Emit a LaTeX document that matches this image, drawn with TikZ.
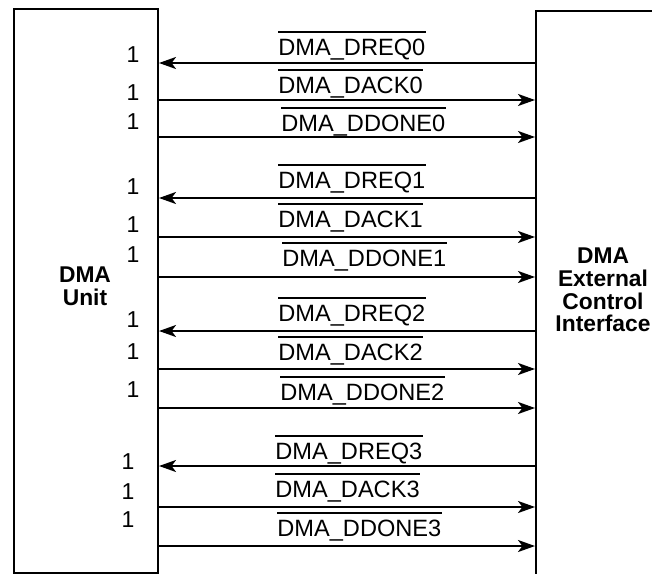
\documentclass[tikz,border=0pt]{standalone}
\usepackage{fontspec}
\setmainfont{Liberation Sans}
\usetikzlibrary{arrows.meta}

\tikzset{
  blk/.style={draw, line width=1pt, inner sep=0pt},
  sig/.style={line width=1pt},
  toE/.style={-{Stealth[length=8.5pt, width=6pt, inset=2.2pt]}},
  toU/.style={{Stealth[length=8.5pt, width=6pt, inset=2.2pt]}-},
  siglbl/.style={anchor=base west, inner sep=0pt, text height=8.5pt, font=\fontsize{11.8}{11.8}\selectfont},
  pinnum/.style={inner sep=0pt, font=\fontsize{11.5}{11.5}\selectfont},
  blklbl/.style={align=center, inner sep=0pt, font=\fontsize{11.4}{11.4}\selectfont\bfseries}
}

\begin{document}
\begin{tikzpicture}[x=0.5pt, y=-0.5pt]
  \clip (0,0) rectangle (652,573);
  % the two blocks
  \node[blk, anchor=north west, minimum width=72pt, minimum height=282pt] (unit) at (13,8) {};
  \node[blk, anchor=north west, minimum width=100pt, minimum height=320pt] (eci) at (535,10) {};
  \node[blklbl] (unitlbl) at (85,286) {DMA\\Unit};
  \node[blklbl] (ecilbl) at (603,290) {DMA\\External\\Control\\Interface};
  % signals: name / direction / line y / label x / label base / pin y / pin x
  \foreach \n/\s/\dir/\y/\lx/\b/\p/\px in {
      0/DMA\_DREQ0/toU/63/278/55/55/133,
      1/DMA\_DACK0/toE/100/278/93/93/133,
      2/DMA\_DDONE0/toE/137/281/131/122/133,
      3/DMA\_DREQ1/toU/198/278/188/187/133,
      4/DMA\_DACK1/toE/237/278/227/225/133,
      5/DMA\_DDONE1/toE/277/282/266/255/133,
      6/DMA\_DREQ2/toU/331/278/321/320/133,
      7/DMA\_DACK2/toE/369/278/360/352/133,
      8/DMA\_DDONE2/toE/408/280/400/390/133,
      9/DMA\_DREQ3/toU/466/275/459/462/128,
      10/DMA\_DACK3/toE/507/275/497/492/128,
      11/DMA\_DDONE3/toE/546/277/536/520/128} {
    \draw[sig, \dir] (unit.east |- 0,\y) -- (eci.west |- 0,\y);
    \node[siglbl] (s\n) at (\lx,\b) {\s};
    \draw[sig] ([yshift=3pt]s\n.north west) -- ([yshift=3pt]s\n.north east);
    \node[pinnum] (p\n) at (\px,\p) {1};
  }
\end{tikzpicture}
\end{document}
